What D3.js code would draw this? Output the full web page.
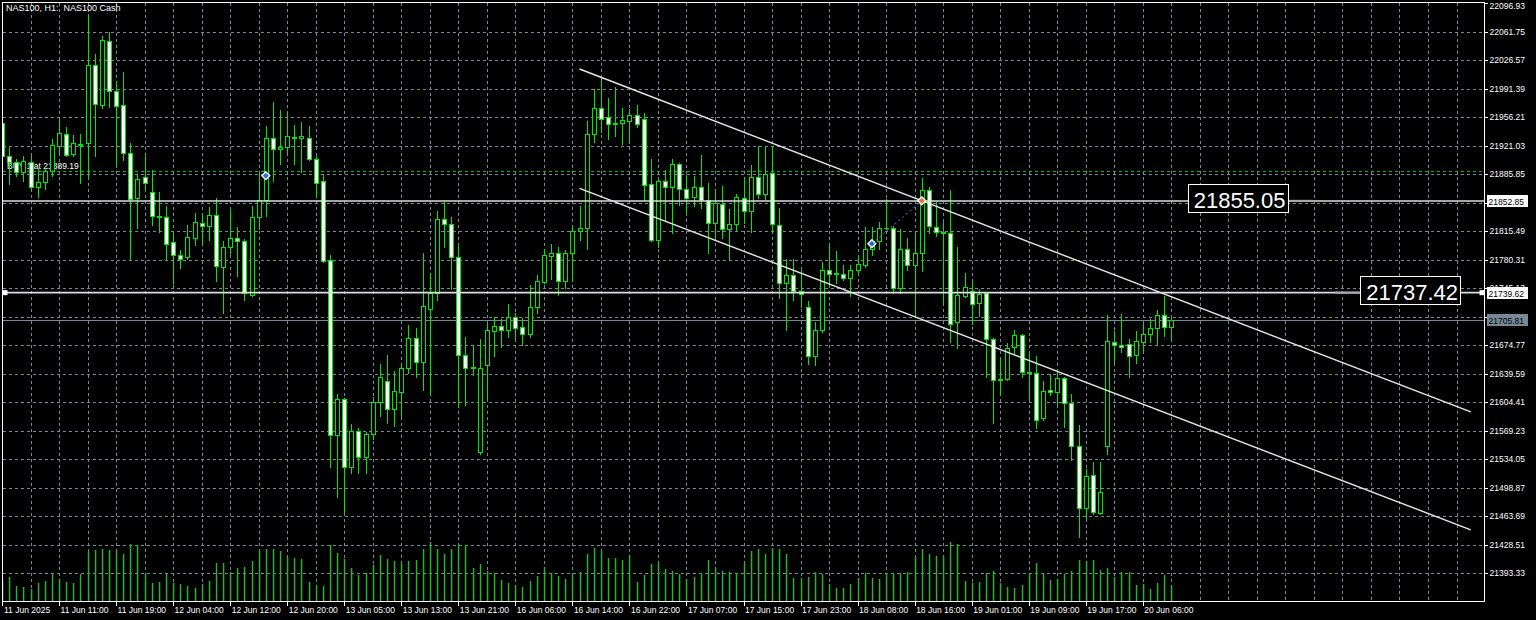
<!DOCTYPE html>
<html><head><meta charset="utf-8">
<script src="https://cdn.jsdelivr.net/npm/d3@7"></script>
<style>html,body{margin:0;padding:0;background:#000;overflow:hidden}svg{display:block}</style>
</head><body><svg id="c" width="1536" height="620"></svg>
<script>
// ---- data (H1 bars, index 0 = 11 Jun 03:00) ----
const openP = [21949,21908,21901,21888,21901,21870,21876,21890,21921,21936,21911,21923,21924,22021,21971,22050,21988,21971,21912,21856,21882,21864,21834,21833,21802,21786,21784,21807,21826,21822,21835,21771,21796,21807,21804,21737,21833,21854,21931,21917,21919,21932,21930,21931,21904,21878,21780,21564,21608,21524,21569,21537,21565,21605,21630,21596,21617,21647,21684,21654,21720,21739,21830,21824,21784,21663,21648,21543,21650,21692,21698,21693,21709,21697,21688,21722,21753,21785,21789,21754,21789,21816,21820,21935,21967,21956,21948,21949,21951,21959,21954,21874,21805,21877,21870,21898,21867,21858,21870,21854,21825,21849,21818,21824,21857,21840,21882,21861,21887,21823,21752,21761,21742,21722,21661,21694,21767,21763,21763,21758,21768,21774,21794,21803,21819,21820,21745,21794,21774,21788,21866,21821,21814,21813,21704,21736,21742,21727,21739,21683,21632,21633,21672,21687,21642,21641,21585,21619,21617,21634,21603,21550,21474,21514,21468,21550,21679,21675,21676,21663,21679,21688,21696,21712,21697];
const highP = [21957,21919,21904,21908,21908,21892,21893,21929,21954,21944,21934,21935,22084,22034,22056,22061,22001,22012,21924,21886,21908,21891,21864,21847,21814,21792,21823,21838,21838,21845,21857,21804,21842,21821,21806,21847,21887,21945,21975,21965,21963,21947,21950,21945,21908,21885,21786,21615,21609,21578,21572,21568,21611,21652,21663,21643,21652,21700,21696,21789,21764,21840,21851,21833,21801,21685,21675,21683,21702,21710,21707,21726,21715,21708,21749,21761,21794,21800,21796,21792,21821,21847,21952,21991,22004,21980,21993,21968,21966,21971,21962,21904,21880,21891,21905,21900,21885,21884,21910,21875,21868,21871,21843,21861,21882,21897,21921,21921,21921,21844,21781,21781,21768,21729,21704,21777,21801,21791,21774,21774,21784,21821,21821,21827,21855,21822,21818,21807,21813,21881,21870,21851,21827,21866,21796,21764,21754,21744,21741,21684,21659,21677,21694,21689,21667,21661,21630,21639,21645,21636,21615,21576,21522,21530,21531,21712,21692,21713,21682,21692,21701,21707,21718,21735,21710];
const lowP = [21903,21874,21884,21878,21866,21858,21868,21884,21912,21908,21908,21875,21883,21908,21968,21969,21898,21903,21781,21819,21866,21823,21815,21781,21752,21770,21781,21798,21800,21805,21754,21715,21788,21760,21731,21736,21818,21834,21877,21898,21912,21898,21889,21903,21858,21778,21524,21488,21468,21517,21517,21517,21559,21587,21579,21575,21587,21640,21636,21620,21613,21731,21796,21744,21599,21601,21638,21541,21609,21661,21673,21685,21680,21675,21685,21714,21751,21757,21737,21745,21755,21805,21794,21926,21938,21929,21933,21923,21924,21944,21854,21804,21796,21829,21813,21848,21838,21847,21844,21789,21807,21807,21781,21816,21826,21814,21857,21855,21813,21733,21693,21731,21722,21651,21650,21691,21749,21751,21755,21735,21764,21771,21786,21794,21818,21739,21739,21767,21712,21766,21813,21809,21726,21679,21671,21734,21701,21711,21636,21579,21613,21632,21665,21636,21608,21572,21583,21613,21600,21574,21533,21438,21461,21467,21467,21541,21654,21666,21635,21653,21668,21679,21675,21686,21680];
const closeP = [21908,21901,21889,21902,21870,21876,21890,21922,21937,21910,21924,21922,22021,21973,22051,21989,21970,21912,21855,21880,21875,21834,21833,21800,21786,21781,21808,21827,21822,21836,21773,21796,21807,21803,21739,21833,21854,21931,21917,21919,21933,21931,21933,21904,21875,21779,21564,21608,21524,21569,21537,21565,21605,21635,21596,21618,21647,21684,21654,21723,21739,21830,21824,21784,21663,21647,21647,21647,21693,21698,21693,21709,21696,21688,21722,21754,21786,21789,21754,21789,21816,21820,21935,21967,21954,21948,21948.5,21953,21959,21948,21873,21805,21877,21870,21898,21867,21857,21870,21854,21825,21850,21818,21824,21858,21840,21882,21862,21886,21824,21752,21761,21742,21738,21661,21694,21768,21763,21763.5,21758,21768,21775,21794,21803,21819,21820,21745,21794,21774,21788,21866,21822,21814,21813,21701,21737,21747,21726,21738,21682,21632,21633,21671,21687,21642,21641,21583,21618,21617,21634,21603,21550,21474,21513,21469,21494,21680,21675,21673,21661,21680,21689,21696,21712,21697,21705.81];
const volumes = [2200,2500,1570,1500,1270,1900,2070,2840,2270,2000,1900,2740,5000,5240,5340,5170,5100,4840,5840,5670,2740,1900,2000,2740,1840,1800,1570,1340,1740,2100,3840,3900,2940,3370,3470,4070,5070,5340,5340,5070,4500,4400,4270,2000,1670,1570,5700,4870,4340,3340,2670,2840,3670,4670,4300,4070,3900,4070,4240,5340,6000,5340,4840,5340,5840,5740,3340,3800,3070,2840,2170,1900,1670,1500,2070,2600,3440,2840,2600,2240,2770,2940,4840,5400,5070,4400,4400,4240,4670,2000,2670,3770,3840,3240,3070,2740,2240,2500,2840,4240,3340,3070,3000,2840,3900,5070,5340,4840,5400,5270,4770,2400,2340,2440,2940,2740,1770,1400,1400,1740,2400,2840,2340,2240,2840,2900,2900,2940,4500,5340,4770,4570,4570,6000,5840,2070,1900,2000,2840,3070,1900,1500,1340,1720,2920,3850,2920,2160,2300,2750,3100,4200,4120,4200,3160,3370,2470,2990,2990,1720,1790,1270,1890,2650,1720];

const priceTicks = ["22096.93","22061.75","22026.57","21991.39","21956.21","21921.03","21885.85","21850.67","21815.49","21780.31","21745.13","21709.95","21674.77","21639.59","21604.41","21569.23","21534.05","21498.87","21463.69","21428.51","21393.33"];
const timeLabels = ["11 Jun 2025","11 Jun 11:00","11 Jun 19:00","12 Jun 04:00","12 Jun 12:00","12 Jun 20:00","13 Jun 05:00","13 Jun 13:00","13 Jun 21:00","16 Jun 06:00","16 Jun 14:00","16 Jun 22:00","17 Jun 07:00","17 Jun 15:00","17 Jun 23:00","18 Jun 08:00","18 Jun 16:00","19 Jun 01:00","19 Jun 09:00","19 Jun 17:00","20 Jun 06:00"];
const timeLabelBars = [0,8,16,24,32,40,48,56,64,72,80,88,96,104,112,120,128,136,144,152,160];

const titleText = "NAS100, H1:  NAS100 Cash";
const orderPrice = 21889.19;
const orderText = "BUY 1 at 21889.19";
const bidPrice = 21705.81;
const hLinePrices = [21852.85, 21739.62];
const hLineTexts = ["21855.05", "21737.42"];
const hLineTextBars = [166.3, 190.5];
const channelBars = [81, 206];
const channelUpper = [22015.7, 21592.4];
const channelLower = [21868.4, 21446.9];
const tradeBars = [37, 122, 129];
const tradePrices = [21884, 21800, 21853];
const tradeKinds = ["buy", "buy", "close"];

// ---- layout ----
const L = 2.5, T = 2.5, R = 1484.5, B = 601.5;
const svg = d3.select("#c");
const x = d3.scaleLinear().domain([0, 204]).range([2, 1456.5]);
const y = d3.scaleLinear().domain([21358.15, 22096.93]).range([601.7, 3.2]);
const yVol = d3.scaleLinear().domain([0, 6200]).range([601.7, 540]);
const FONT = "'Liberation Sans', Arial, sans-serif";
const GRID = "#778899", LIME = "#00e800", VOLC = "#28b428";

svg.append("rect").attr("width", 1536).attr("height", 620).attr("fill", "#000");

svg.append("defs").append("clipPath").attr("id", "plot")
  .append("rect").attr("x", 3).attr("y", 3).attr("width", R - 3).attr("height", B - 3);

// grid
const grid = svg.append("g").attr("shape-rendering", "crispEdges")
  .attr("stroke", GRID).attr("stroke-dasharray", "3,3").attr("stroke-width", 1);
grid.selectAll("line.h").data(priceTicks.slice(1)).join("line")
  .attr("x1", L).attr("x2", R)
  .attr("y1", d => Math.round(y(+d)) + 0.5).attr("y2", d => Math.round(y(+d)) + 0.5);
grid.selectAll("line.v").data(d3.range(4, 205, 4)).join("line")
  .attr("y1", T).attr("y2", B)
  .attr("x1", d => Math.round(x(d)) + 0.5).attr("x2", d => Math.round(x(d)) + 0.5);

const plot = svg.append("g").attr("clip-path", "url(#plot)");

// volumes
plot.append("g").selectAll("rect").data(volumes).join("rect")
  .attr("x", (d, i) => Math.round(x(i)) - 0.2)
  .attr("width", 1.5)
  .attr("y", d => Math.round(yVol(d)))
  .attr("height", d => 602 - Math.round(yVol(d)))
  .attr("fill", VOLC);

// title & order text (behind candles)
svg.append("text").attr("x", 6).attr("y", 11).attr("fill", "#fff")
  .attr("font-family", FONT).attr("font-size", 9).style("white-space", "pre").text(titleText);
plot.append("text").attr("x", 7).attr("y", y(orderPrice) - 2.5).attr("fill", "#fff")
  .attr("font-family", FONT).attr("font-size", 8.5).text(orderText);

// order line (dashed green)
plot.append("line").attr("x1", L).attr("x2", R)
  .attr("y1", Math.round(y(orderPrice)) + 0.5).attr("y2", Math.round(y(orderPrice)) + 0.5)
  .attr("stroke", "#00c000").attr("stroke-dasharray", "3,3").attr("shape-rendering", "crispEdges");

// bid line
plot.append("line").attr("x1", L).attr("x2", R)
  .attr("y1", Math.round(y(bidPrice)) + 0.5).attr("y2", Math.round(y(bidPrice)) + 0.5)
  .attr("stroke", GRID).attr("stroke-width", 1.2);

// candles
const cg = plot.append("g").attr("shape-rendering", "crispEdges");
openP.forEach((o, i) => {
  const c = closeP[i], h = highP[i], l = lowP[i];
  const cx = Math.round(x(i));
  const yh = Math.round(y(h)), yl = Math.round(y(l));
  cg.append("rect").attr("x", cx).attr("y", yh).attr("width", 1).attr("height", Math.max(1, yl - yh + 1)).attr("fill", LIME);
  const yt = Math.round(y(Math.max(o, c))), yb = Math.round(y(Math.min(o, c)));
  if (yb - yt < 2) {
    cg.append("rect").attr("x", cx - 2).attr("y", yt).attr("width", 5).attr("height", Math.max(1, yb - yt + 1)).attr("fill", LIME);
  } else {
    cg.append("rect").attr("x", cx - 2).attr("y", yt).attr("width", 5).attr("height", yb - yt + 1).attr("fill", LIME);
    cg.append("rect").attr("x", cx - 1).attr("y", yt + 1).attr("width", 3).attr("height", yb - yt - 1)
      .attr("fill", c >= o ? "#000" : "#fff");
  }
});

// channel lines
[channelUpper, channelLower].forEach(ch => {
  plot.append("line")
    .attr("x1", x(channelBars[0])).attr("y1", y(ch[0]))
    .attr("x2", x(channelBars[1])).attr("y2", y(ch[1]))
    .attr("stroke", "#e8e8e8").attr("stroke-width", 1.4);
});

// horizontal lines with labels
hLinePrices.forEach((p, k) => {
  const yy = y(p);
  plot.append("line").attr("x1", L).attr("x2", R).attr("y1", yy).attr("y2", yy)
    .attr("stroke", "#dedede").attr("stroke-width", 1.6);
  const bx = x(hLineTextBars[k]);
  const tail = k === 0 ? [bx + 101, bx + 125] : [bx - 25, bx];
  svg.append("line").attr("x1", tail[0]).attr("x2", tail[1]).attr("y1", yy).attr("y2", yy)
    .attr("stroke", "#a8a8a8").attr("stroke-width", 2.2);
  svg.append("rect").attr("x", bx + 0.5).attr("y", yy - 16.5).attr("width", 100).attr("height", 28)
    .attr("fill", "#000").attr("stroke", "#fff").attr("stroke-width", 1).attr("shape-rendering", "crispEdges");
  svg.append("text").attr("x", bx + 6).attr("y", yy + 7).attr("fill", "#fff")
    .attr("font-family", FONT).attr("font-size", 22).text(hLineTexts[k]);
});
// end squares of second line
[L + 2.5, R - 2.5].forEach(px => {
  svg.append("rect").attr("x", px - 2.5).attr("y", y(hLinePrices[1]) - 2.5).attr("width", 5).attr("height", 5).attr("fill", "#fff");
});

// trade markers
plot.append("line")
  .attr("x1", x(tradeBars[1])).attr("y1", y(tradePrices[1]))
  .attr("x2", x(tradeBars[2])).attr("y2", y(tradePrices[2]))
  .attr("stroke", "#2a5db8").attr("stroke-width", 1.2).attr("stroke-dasharray", "2,3");
tradeBars.forEach((b, k) => {
  const cx = x(b), cy = y(tradePrices[k]);
  plot.append("path").attr("transform", `translate(${cx},${cy})`)
    .attr("d", "M0,-4L4,0L0,4L-4,0Z")
    .attr("fill", tradeKinds[k] === "buy" ? "#2a6fd8" : "#e07830")
    .attr("stroke", "#fff").attr("stroke-width", 1.3);
});

// frame
svg.append("rect").attr("x", L).attr("y", T).attr("width", R - L).attr("height", B - T)
  .attr("fill", "none").attr("stroke", "#fff").attr("shape-rendering", "crispEdges");

// right axis
const ya = svg.append("g").attr("transform", `translate(${R},0)`)
  .call(d3.axisRight(y).tickValues(priceTicks.map(Number)).tickSize(3).tickPadding(2).tickFormat(d3.format(".2f")));
ya.select(".domain").remove();
ya.selectAll("line").attr("stroke", "#fff").attr("shape-rendering", "crispEdges");
ya.selectAll("text").attr("fill", "#fff").attr("font-family", FONT).attr("font-size", 8.5)
  .attr("dy", (d, i) => i === 0 ? "0.62em" : "0.32em");

// bottom axis
const xa = svg.append("g").attr("transform", `translate(0,${B})`)
  .call(d3.axisBottom(x).tickValues(timeLabelBars).tickSize(4).tickPadding(1).tickFormat((d, i) => timeLabels[i]));
xa.select(".domain").remove();
xa.selectAll("line").attr("stroke", "#fff").attr("shape-rendering", "crispEdges");
xa.selectAll("text").attr("fill", "#fff").attr("font-family", FONT).attr("font-size", 8.5)
  .attr("text-anchor", "start").attr("dx", (d, i) => i === 0 ? 1.5 : 1);

// axis price boxes
function axisBox(p, txt, bg, fg) {
  const yy = Math.round(y(p));
  svg.append("rect").attr("x", R + 2).attr("y", yy - 6).attr("width", 41).attr("height", 12)
    .attr("fill", bg).attr("shape-rendering", "crispEdges");
  svg.append("text").attr("x", R + 4).attr("y", yy + 3.5).attr("fill", fg)
    .attr("font-family", FONT).attr("font-size", 8.5).text(txt);
}
hLinePrices.forEach(p => axisBox(p, p.toFixed(2), "#fff", "#000"));
axisBox(bidPrice, bidPrice.toFixed(2), GRID, "#000");
</script></body></html>
